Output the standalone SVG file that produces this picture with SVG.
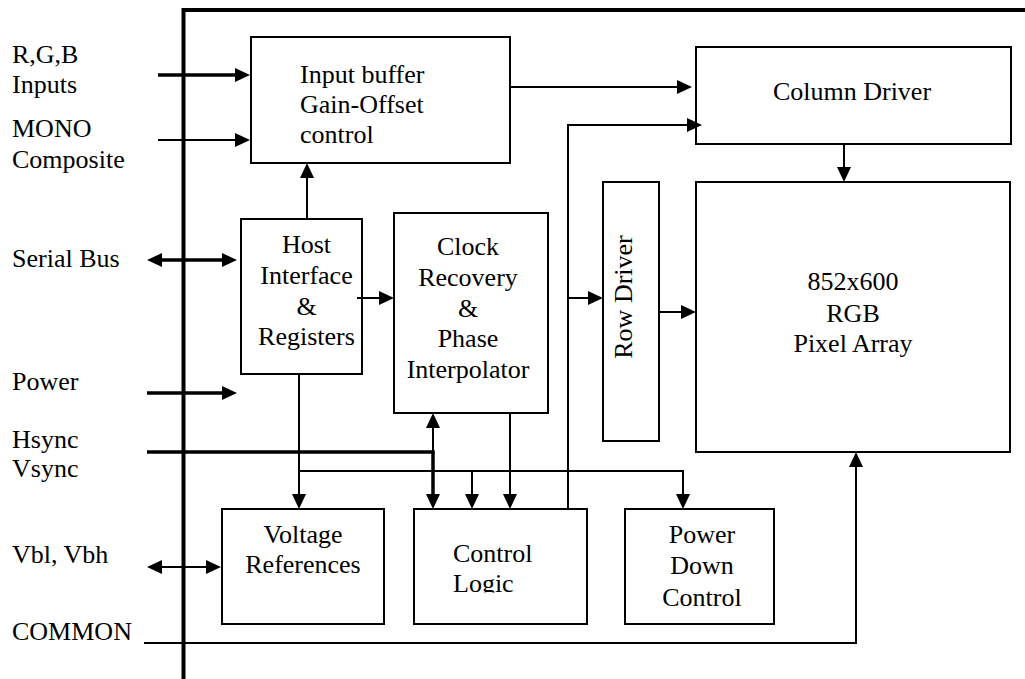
<svg xmlns="http://www.w3.org/2000/svg" width="1025" height="679" viewBox="0 0 1025 679">
<style>
.box{fill:none;stroke:#000;stroke-width:2}
.t{font-size:26px;fill:#000}
.c{text-anchor:middle}
.thin{fill:none;stroke:#000;stroke-width:2}
.thick{fill:none;stroke:#000;stroke-width:3.5}
.frame{fill:none;stroke:#000;stroke-width:4}
</style>
<defs>
<marker id="ah" viewBox="0 0 15 14" refX="0" refY="7" markerWidth="15" markerHeight="14" markerUnits="userSpaceOnUse" orient="auto-start-reverse">
<path d="M0,0 L15,7 L0,14 z" fill="#000"/>
</marker>
<clipPath id="clipCL"><rect x="414" y="509" width="173" height="83.5"/></clipPath>
</defs>
<rect width="1025" height="679" fill="#fff"/>
<g id="frame">
<path class="frame" d="M183.5,679 V10 H1025"/>
</g>
<g font-family="'Liberation Serif', 'Times New Roman', serif">
<g id="labels">
<text class="t" x="12" y="63">R,G,B</text>
<text class="t" x="12" y="93">Inputs</text>
<text class="t" x="12" y="137">MONO</text>
<text class="t" x="12" y="168">Composite</text>
<text class="t" x="12" y="267">Serial Bus</text>
<text class="t" x="12" y="390">Power</text>
<text class="t" x="12" y="448">Hsync</text>
<text class="t" x="12" y="477">Vsync</text>
<text class="t" x="12" y="563">Vbl, Vbh</text>
<text class="t" x="12" y="640">COMMON</text>
</g>
<g id="input-buffer">
<rect class="box" x="251" y="37" width="259" height="126"/>
<text class="t" x="300" y="83">Input buffer</text>
<text class="t" x="300" y="113">Gain-Offset</text>
<text class="t" x="300" y="143">control</text>
</g>
<g id="column-driver">
<rect class="box" x="696" y="47" width="315" height="97"/>
<text class="t c" x="852" y="100">Column Driver</text>
</g>
<g id="host-interface">
<rect class="box" x="241" y="219" width="121" height="155"/>
<text class="t c" x="306.5" y="253">Host</text>
<text class="t c" x="306.5" y="284">Interface</text>
<text class="t c" x="306.5" y="315">&amp;</text>
<text class="t c" x="306.5" y="345">Registers</text>
</g>
<g id="clock-recovery">
<rect class="box" x="394" y="213" width="154" height="200"/>
<text class="t c" x="468" y="255">Clock</text>
<text class="t c" x="468" y="286">Recovery</text>
<text class="t c" x="468" y="317">&amp;</text>
<text class="t c" x="468" y="347">Phase</text>
<text class="t c" x="468" y="378">Interpolator</text>
</g>
<g id="row-driver">
<rect class="box" x="603" y="182" width="56" height="259"/>
<text class="t c" transform="translate(632,297) rotate(-90)">Row Driver</text>
</g>
<g id="pixel-array">
<rect class="box" x="696" y="182" width="314" height="270"/>
<text class="t c" x="853" y="290">852x600</text>
<text class="t c" x="853" y="322">RGB</text>
<text class="t c" x="853" y="352">Pixel Array</text>
</g>
<g id="voltage-references">
<rect class="box" x="222" y="509" width="162" height="115"/>
<text class="t c" x="303" y="543">Voltage</text>
<text class="t c" x="303" y="573">References</text>
</g>
<g id="control-logic">
<rect class="box" x="414" y="509" width="173" height="115"/>
<g clip-path="url(#clipCL)">
<text class="t" x="453" y="562">Control</text>
<text class="t" x="453" y="592">Logic</text>
</g>
</g>
<g id="power-down">
<rect class="box" x="625" y="509" width="149" height="115"/>
<text class="t c" x="702" y="543">Power</text>
<text class="t c" x="702" y="574">Down</text>
<text class="t c" x="702" y="606">Control</text>
</g>
</g>
<g id="connectors">
<path class="thick" d="M158,75 H235" marker-end="url(#ah)"/>
<path class="thin" d="M158,140 H235" marker-end="url(#ah)"/>
<path class="thick" d="M162,260 H222" marker-start="url(#ah)" marker-end="url(#ah)"/>
<path class="thick" d="M147,393 H222" marker-end="url(#ah)"/>
<path class="thick" d="M147,452 H433 V494" marker-end="url(#ah)"/>
<path class="thin" d="M433,452 V428" marker-end="url(#ah)"/>
<path class="thin" d="M162,567 H206" marker-start="url(#ah)" marker-end="url(#ah)"/>
<path class="thin" d="M144,643 H856 V467" marker-end="url(#ah)"/>
<path class="thin" d="M307,219 V178" marker-end="url(#ah)"/>
<path class="thin" d="M357,298 H379" marker-end="url(#ah)"/>
<path class="thin" d="M299,374 V494" marker-end="url(#ah)"/>
<path class="thin" d="M299,471 H683 V494" marker-end="url(#ah)"/>
<path class="thin" d="M472,471 V494" marker-end="url(#ah)"/>
<path class="thin" d="M510,413 V494" marker-end="url(#ah)"/>
<path class="thin" d="M568,509 V125 H687" marker-end="url(#ah)"/>
<path class="thin" d="M568,298 H588" marker-end="url(#ah)"/>
<path class="thin" d="M510,87 H677" marker-end="url(#ah)"/>
<path class="thin" d="M844,144 V167" marker-end="url(#ah)"/>
<path class="thin" d="M659,312 H681" marker-end="url(#ah)"/>
</g>
</svg>
